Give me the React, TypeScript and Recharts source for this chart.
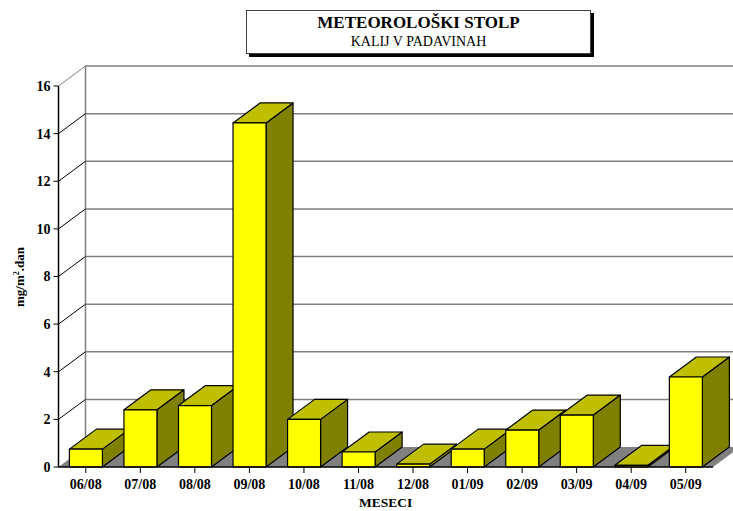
import { Bar, BarChart, CartesianGrid, XAxis, YAxis } from "recharts";

const months = ["06/08", "07/08", "08/08", "09/08", "10/08", "11/08", "12/08", "01/09", "02/09", "03/09", "04/09", "05/09"];
const potassium = [0.75, 2.4, 2.58, 14.45, 2.0, 0.63, 0.12, 0.75, 1.55, 2.18, 0.07, 3.78];
const yTicks = [0, 2, 4, 6, 8, 10, 12, 14, 16];

const rows = months.map((month, i) => ({ month, value: potassium[i] }));

// depth of the fake 3D box, same for bars and for the back wall
const DX = 27;
const DY = 20;
const SERIF = "'Liberation Serif', 'Times New Roman', serif";
const PLOT_TOP = 86;
const PLOT_BOTTOM = 467;

function Box3D({ x, y, width, height }: any) {
  const r = x + width;
  const b = y + height;
  return (
    <g stroke="#000" strokeWidth={1.2} strokeLinejoin="round">
      <polygon points={`${r},${y} ${r + DX},${y - DY} ${r + DX},${b - DY} ${r},${b}`} fill="#808000" />
      <polygon points={`${x},${y} ${x + DX},${y - DY} ${r + DX},${y - DY} ${r},${y}`} fill="#bfbf00" />
      <rect x={x} y={y} width={width} height={height} fill="#ffff00" />
    </g>
  );
}

function WallLine({ x1, x2, y1 }: any) {
  const isFloor = y1 > PLOT_BOTTOM - 1;
  const isTop = y1 < PLOT_TOP + 1;
  return (
    <g>
      {isFloor && (
        <>
          <polygon
            points={`${x1},${y1} ${x1 + DX},${y1 - DY} ${x2 + DX},${y1 - DY} ${x2},${y1}`}
            fill="#808080"
          />
          <line x1={x1 + DX} x2={x1 + DX} y1={y1 - DY} y2={PLOT_TOP - DY} stroke="#808080" strokeWidth={1.5} />
        </>
      )}
      {!isFloor && (
        <>
          <line x1={x1 + DX} x2={x2 + DX} y1={y1 - DY} y2={y1 - DY} stroke="#808080" strokeWidth={1.5} />
          <line x1={x1} x2={x1 + DX} y1={y1} y2={y1 - DY} stroke={isTop ? "#808080" : "#000"} strokeWidth={1} />
        </>
      )}
    </g>
  );
}

function YTitle() {
  return (
    <text
      transform="rotate(-90 24 277)"
      x={24}
      y={277}
      textAnchor="middle"
      fontFamily={SERIF}
      fontWeight="bold"
      fontSize={13}
      fill="#000"
    >
      mg/m
      <tspan dy={-5} fontSize={8}>2</tspan>
      <tspan dy={5}>.dan</tspan>
    </text>
  );
}

export default function App() {
  const tickStyle = { fontFamily: SERIF, fontWeight: "bold", fontSize: 14, fill: "#000" };
  return (
    <div style={{ position: "absolute", left: 0, top: 0, width: 733, height: 511, background: "#fff", overflow: "hidden" }}>
      <BarChart
        width={733}
        height={511}
        data={rows}
        margin={{ top: PLOT_TOP, right: 20, bottom: 0, left: 0 }}
        barCategoryGap="20%"
      >
        <CartesianGrid horizontal={(p: any) => <WallLine key={p.key} {...p} />} vertical={false} syncWithTicks />
        <XAxis
          dataKey="month"
          interval={0}
          height={44}
          tick={tickStyle}
          tickSize={6}
          tickMargin={6}
          axisLine={{ stroke: "#000", strokeWidth: 1.5 }}
          tickLine={{ stroke: "#000", strokeWidth: 1 }}
          label={{ value: "MESECI", position: "insideBottom", offset: 4, style: { ...tickStyle, fontSize: 13.5 } }}
        />
        <YAxis
          domain={[0, 16]}
          ticks={yTicks}
          width={58.5}
          tick={tickStyle}
          tickSize={5}
          tickMargin={3}
          axisLine={{ stroke: "#000", strokeWidth: 1.5 }}
          tickLine={{ stroke: "#000", strokeWidth: 1 }}
          label={<YTitle />}
        />
        <Bar dataKey="value" shape={<Box3D />} isAnimationActive={false} />
      </BarChart>
      <div
        style={{
          position: "absolute",
          left: 246,
          top: 10,
          width: 343,
          height: 42,
          border: "1px solid #404040",
          boxShadow: "3px 3px 0 #000",
          background: "#fff",
          textAlign: "center",
          fontFamily: SERIF,
          color: "#000",
        }}
      >
        <div style={{ fontWeight: "bold", fontSize: 17, lineHeight: "20px", marginTop: 2 }}>METEOROLOŠKI STOLP</div>
        <div style={{ fontSize: 14, lineHeight: "18px" }}>KALIJ V PADAVINAH</div>
      </div>
    </div>
  );
}
